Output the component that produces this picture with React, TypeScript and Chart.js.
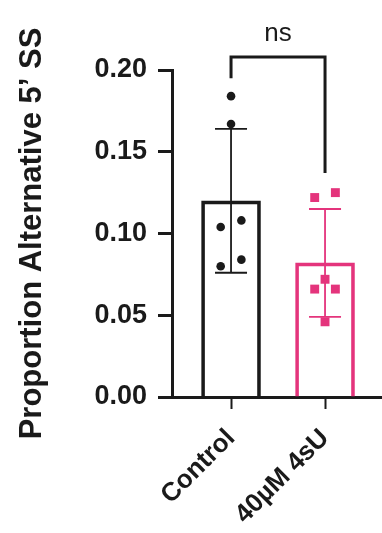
import React, { useEffect, useRef } from 'react';
import { Chart, registerables } from 'chart.js';

Chart.register(...registerables);

// ---- data ----
const categories = ['Control', '40µM 4sU'];
const barMeans = [0.12, 0.082];
const barSD = [0.044, 0.033];
const controlPoints = [0.184, 0.167, 0.104, 0.108, 0.08, 0.084];
const controlJitter = [0, 0, -0.11, 0.11, -0.11, 0.11];
const treatedPoints = [0.122, 0.125, 0.072, 0.066, 0.066, 0.046];
const treatedJitter = [-0.11, 0.11, 0, -0.11, 0.11, 0];
const yTicks = [0, 0.05, 0.1, 0.15, 0.2];
const sigLabel = 'ns';
const bracketTop = 0.208;
const bracketLeftEnd = 0.195;
const bracketRightEnd = 0.137;
const yTitle = 'Proportion Alternative 5’ SS';

const BLACK = '#1a1a1a';
const PINK = '#e4347c';
const FONT = '"Liberation Sans", Arial, Helvetica, sans-serif';
const colors = [BLACK, PINK];
const BAR_INDEX = 2;

const errorBarPlugin = {
  id: 'errorBars',
  afterDatasetDraw(chart: any, args: any) {
    if (args.index !== BAR_INDEX) return;
    const { ctx } = chart;
    const xs = chart.scales.x;
    const ys = chart.scales.y;
    barMeans.forEach((m, i) => {
      const px = xs.getPixelForValue(i + 1);
      const top = ys.getPixelForValue(m + barSD[i]);
      const bot = ys.getPixelForValue(m - barSD[i]);
      ctx.save();
      ctx.strokeStyle = colors[i];
      ctx.lineWidth = 1.8;
      ctx.beginPath();
      ctx.moveTo(px, top);
      ctx.lineTo(px, bot);
      ctx.moveTo(px - 16, top);
      ctx.lineTo(px + 16, top);
      ctx.moveTo(px - 16, bot);
      ctx.lineTo(px + 16, bot);
      ctx.stroke();
      ctx.restore();
    });
  },
};

const bracketPlugin = {
  id: 'bracket',
  afterDraw(chart: any) {
    const { ctx } = chart;
    const xs = chart.scales.x;
    const ys = chart.scales.y;
    const x1 = xs.getPixelForValue(1);
    const x2 = xs.getPixelForValue(2);
    const yt = ys.getPixelForValue(bracketTop);
    const yl = ys.getPixelForValue(bracketLeftEnd);
    const yr = ys.getPixelForValue(bracketRightEnd);
    ctx.save();
    ctx.strokeStyle = BLACK;
    ctx.lineWidth = 3;
    ctx.lineJoin = 'miter';
    ctx.beginPath();
    ctx.moveTo(x1, yl);
    ctx.lineTo(x1, yt);
    ctx.lineTo(x2, yt);
    ctx.lineTo(x2, yr);
    ctx.stroke();
    ctx.fillStyle = BLACK;
    ctx.font = `26px ${FONT}`;
    ctx.textAlign = 'center';
    ctx.textBaseline = 'middle';
    ctx.fillText(sigLabel, (x1 + x2) / 2, yt - 23);
    ctx.restore();
  },
};

export default function App() {
  const ref = useRef<HTMLCanvasElement | null>(null);

  useEffect(() => {
    if (!ref.current) return;
    const chart = new Chart(ref.current, {
      type: 'bar',
      data: {
        datasets: [
          {
            type: 'scatter',
            data: controlPoints.map((v, i) => ({ x: 1 + controlJitter[i], y: v })),
            pointStyle: 'circle',
            pointRadius: 4.3,
            backgroundColor: BLACK,
            borderColor: BLACK,
            borderWidth: 0,
          } as any,
          {
            type: 'scatter',
            data: treatedPoints.map((v, i) => ({ x: 2 + treatedJitter[i], y: v })),
            pointStyle: 'rect',
            pointRadius: 6.3,
            backgroundColor: PINK,
            borderColor: PINK,
            borderWidth: 0,
          } as any,
          {
            type: 'bar',
            data: barMeans.map((v, i) => ({ x: i + 1, y: v })),
            backgroundColor: 'rgba(255,255,255,0)',
            borderColor: colors,
            borderWidth: 3,
            barThickness: 59,
          } as any,
        ],
      },
      options: {
        animation: false,
        responsive: false,
        devicePixelRatio: 1,
        layout: { autoPadding: false, padding: { top: 70, right: 0, bottom: 0, left: 0 } },
        plugins: { legend: { display: false }, tooltip: { enabled: false } },
        scales: {
          x: {
            type: 'linear',
            offset: false,
            min: 0.372,
            max: 2.606,
            afterBuildTicks: (scale: any) => {
              scale.ticks = categories.map((_, i) => ({ value: i + 1 }));
            },
            afterFit: (scale: any) => {
              scale.height = 136;
              scale.paddingRight = 0;
              scale.paddingLeft = 0;
            },
            ticks: {
              minRotation: 45,
              maxRotation: 45,
              autoSkip: false,
              padding: 14,
              color: BLACK,
              font: { family: FONT, size: 26, weight: 'bold' },
              callback: (_v: any, i: number) => categories[i],
            },
            grid: {
              offset: false,
              drawOnChartArea: false,
              drawTicks: true,
              tickLength: 12,
              tickWidth: 2,
              tickColor: BLACK,
            },
            border: { display: true, color: BLACK, width: 3 },
          },
          y: {
            type: 'linear',
            min: 0,
            max: 0.2,
            afterBuildTicks: (scale: any) => {
              scale.ticks = yTicks.map((v) => ({ value: v }));
            },
            afterFit: (scale: any) => {
              scale.width = 172;
            },
            ticks: {
              padding: 11,
              color: BLACK,
              font: { family: FONT, size: 27, weight: 'bold' },
              callback: (v: any) => Number(v).toFixed(2),
            },
            grid: {
              drawOnChartArea: false,
              drawTicks: true,
              tickLength: 14,
              tickWidth: 3,
              tickColor: BLACK,
            },
            border: { display: true, color: BLACK, width: 3 },
            title: {
              display: true,
              text: yTitle,
              color: BLACK,
              font: { family: FONT, size: 31, weight: 'bold' },
              padding: { top: 14, bottom: 0 },
            },
          },
        },
      },
      plugins: [errorBarPlugin, bracketPlugin],
    } as any);
    return () => chart.destroy();
  }, []);

  return (
    <div style={{ position: 'fixed', left: 0, top: 0, width: 382, height: 533, background: '#fff' }}>
      <canvas ref={ref} width={382} height={533} style={{ width: 382, height: 533 }} />
    </div>
  );
}
